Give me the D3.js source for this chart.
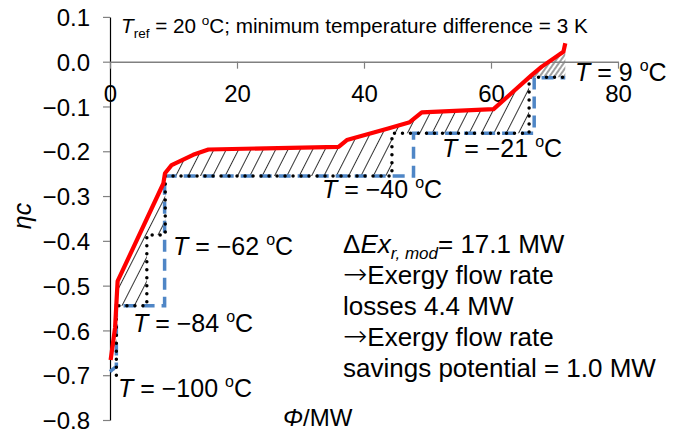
<!DOCTYPE html>
<html>
<head>
<meta charset="utf-8">
<script src="https://cdnjs.cloudflare.com/ajax/libs/d3/7.8.5/d3.min.js"></script>
<style>
body { margin: 0; background: #fff; }
text { font-family: "Liberation Sans", Arial, sans-serif; fill: #000; }
</style>
</head>
<body>
<div class="graph"></div>
<script>
//data//
let hotPhi = [0.1, 0.8, 1.2, 8.4, 8.66, 9.7, 13.1, 15.5, 36.0, 37.3, 43.8, 47.2, 49.1, 60.4, 66.4, 68.0, 71.4, 71.7];
let hotEta = [-0.666, -0.594, -0.49, -0.272, -0.249, -0.231, -0.208, -0.196, -0.190, -0.175, -0.149, -0.135, -0.113, -0.106, -0.030, -0.011, 0.022, 0.041];

let coldPhi = [1.0, 1.0, 5.8, 5.8, 8.7, 8.7, 44.4, 44.4, 66.0, 66.0, 71.7];
let coldEta = [-0.70, -0.545, -0.545, -0.387, -0.387, -0.255, -0.255, -0.160, -0.160, -0.035, -0.035];

let modPhi = [0.0, 1.0, 1.0, 8.6, 8.6, 47.8, 47.8, 66.8, 66.8, 71.7];
let modEta = [-0.692, -0.68, -0.545, -0.545, -0.255, -0.255, -0.160, -0.160, -0.036, -0.036];

let xTicks = [0, 20, 40, 60, 80];
let yTicks = [0.1, 0.0, -0.1, -0.2, -0.3, -0.4, -0.5, -0.6, -0.7, -0.8];

let tempLabels = ['9', '\u221221', '\u221240', '\u221262', '\u221284', '\u2212100'];

//various constants//
let w = 673;
let h = 433;

let xScale = d3.scaleLinear().domain([0, 80]).range([110, 618]);
let yScale = d3.scaleLinear().domain([-0.8, 0.1]).range([420, 16.9]);

let svg = d3.select('.graph')
    .append('svg')
    .attr('width', w)
    .attr('height', h)
    .style('display', 'block');

let hot = hotPhi.map((p, i) => [p, hotEta[i]]);
let cold = coldPhi.map((p, i) => [p, coldEta[i]]);
let mod = modPhi.map((p, i) => [p, modEta[i]]);

let line = d3.line().x(d => xScale(d[0])).y(d => yScale(d[1]));

//hatch patterns//
let defs = svg.append('defs');
defs.append('pattern')
    .attr('id', 'hatch')
    .attr('patternUnits', 'userSpaceOnUse')
    .attr('width', 11)
    .attr('height', 11)
    .attr('patternTransform', 'rotate(27)')
    .append('line')
    .attr('x1', 5.5).attr('y1', 0)
    .attr('x2', 5.5).attr('y2', 11)
    .attr('stroke', '#000')
    .attr('stroke-width', 0.8);

defs.append('pattern')
    .attr('id', 'hatchGrey')
    .attr('patternUnits', 'userSpaceOnUse')
    .attr('width', 4)
    .attr('height', 4)
    .attr('patternTransform', 'rotate(35)')
    .append('line')
    .attr('x1', 2).attr('y1', 0)
    .attr('x2', 2).attr('y2', 4)
    .attr('stroke', '#888')
    .attr('stroke-width', 1.6);

// area between hot and cold curves
let split = hotPhi.indexOf(66.4);
let corner = 9;
let mainArea = hot.slice(0, split + 1).concat(cold.slice(0, corner + 1).reverse());
let topArea = hot.slice(split).concat(cold.slice(corner).reverse());

svg.append('path')
    .attr('d', line(mainArea) + 'Z')
    .attr('fill', 'url(#hatch)');

svg.append('path')
    .attr('d', line(topArea) + 'Z')
    .attr('fill', 'url(#hatchGrey)');

//axes//
let fmt = d3.format('.1f');

let yAxis = d3.axisLeft(yScale)
    .tickValues(yTicks)
    .tickSize(7)
    .tickSizeOuter(0)
    .tickPadding(13)
    .tickFormat(fmt);

let gy = svg.append('g')
    .attr('transform', 'translate(110, 0)')
    .call(yAxis);
gy.select('.domain').attr('stroke', '#000').attr('stroke-width', 1.2);
gy.selectAll('.tick line').attr('stroke', '#808080').attr('stroke-width', 1.2);
gy.selectAll('.tick text')
    .attr('font-size', 24)
    .attr('font-family', '"Liberation Sans", Arial, sans-serif')
    .attr('dy', '0.36em');

let xAxis = d3.axisBottom(xScale)
    .tickValues(xTicks)
    .tickSize(7)
    .tickSizeOuter(0)
    .tickFormat(d3.format('d'));

let gx = svg.append('g')
    .attr('transform', 'translate(0,' + yScale(0) + ')')
    .call(xAxis);
gx.select('.domain').attr('stroke', '#808080').attr('stroke-width', 1.5);
gx.selectAll('.tick line').attr('stroke', '#808080').attr('stroke-width', 1.2);
gx.selectAll('.tick text')
    .attr('font-size', 24)
    .attr('font-family', '"Liberation Sans", Arial, sans-serif')
    .attr('y', 40)
    .attr('dy', 0);

//curves//
svg.append('path')
    .attr('d', line(mod))
    .attr('fill', 'none')
    .attr('stroke', '#4f86c6')
    .attr('stroke-width', 3.5)
    .attr('stroke-dasharray', '12,7');

svg.append('path')
    .attr('d', line(cold))
    .attr('fill', 'none')
    .attr('stroke', '#000')
    .attr('stroke-width', 3.5)
    .attr('stroke-linecap', 'round')
    .attr('stroke-dasharray', '0,8');

svg.append('path')
    .attr('d', line(hot))
    .attr('fill', 'none')
    .attr('stroke', '#ff0000')
    .attr('stroke-width', 4.2)
    .attr('stroke-linejoin', 'round');

//texts//
let title = svg.append('text')
    .attr('x', 121)
    .attr('y', 33)
    .attr('font-size', 20.7);
title.append('tspan').attr('font-style', 'italic').text('T');
title.append('tspan').attr('font-size', 13.5).attr('dy', 5).text('ref');
title.append('tspan').attr('dy', -5).text(' = 20 ');
title.append('tspan').attr('font-size', 13.5).attr('dy', -8).text('o');
title.append('tspan').attr('dy', 8).text('C; minimum temperature difference = 3 K');

let labelPos = [[575, 81], [442, 157], [322, 198], [173, 255], [133, 332], [118, 397]];

tempLabels.forEach((t, i) => {
    let tx = svg.append('text')
        .attr('x', labelPos[i][0])
        .attr('y', labelPos[i][1])
        .attr('font-size', 25);
    tx.append('tspan').attr('font-style', 'italic').text('T');
    tx.append('tspan').text(' = ' + t + ' ');
    tx.append('tspan').attr('font-size', 16).attr('dy', -10).text('o');
    tx.append('tspan').attr('dy', 10).text('C');
});

let note = svg.append('text')
    .attr('x', 343)
    .attr('y', 253)
    .attr('font-size', 26);
note.append('tspan').text('\u0394');
note.append('tspan').attr('font-style', 'italic').text('Ex');
note.append('tspan').attr('font-style', 'italic').attr('font-size', 17).attr('dy', 6).text('r, mod');
note.append('tspan').attr('dy', -6).text('= 17.1 MW');

let noteLines = ['\u2192Exergy flow rate', 'losses 4.4 MW', '\u2192Exergy flow rate', 'savings potential = 1.0 MW'];
noteLines.forEach((s, i) => {
    let t = svg.append('text')
        .attr('x', 343)
        .attr('y', 284 + i * 31)
        .attr('font-size', 26);
    if (s[0] === '\u2192') {
        t.append('tspan')
            .style('font-family', '"DejaVu Sans", sans-serif')
            .style('font-weight', 200)
            .style('font-size', '29px')
            .text('\u2192');
        t.append('tspan').text(s.slice(1));
    } else {
        t.text(s);
    }
});

svg.append('text')
    .attr('transform', 'translate(31, 216) rotate(-90)')
    .attr('text-anchor', 'middle')
    .attr('font-size', 25)
    .attr('font-style', 'italic')
    .text('\u03b7c');

let xt = svg.append('text')
    .attr('x', 283)
    .attr('y', 426)
    .attr('font-size', 24);
xt.append('tspan').attr('font-style', 'italic').text('\u03a6');
xt.append('tspan').text('/MW');
</script>
</body>
</html>
